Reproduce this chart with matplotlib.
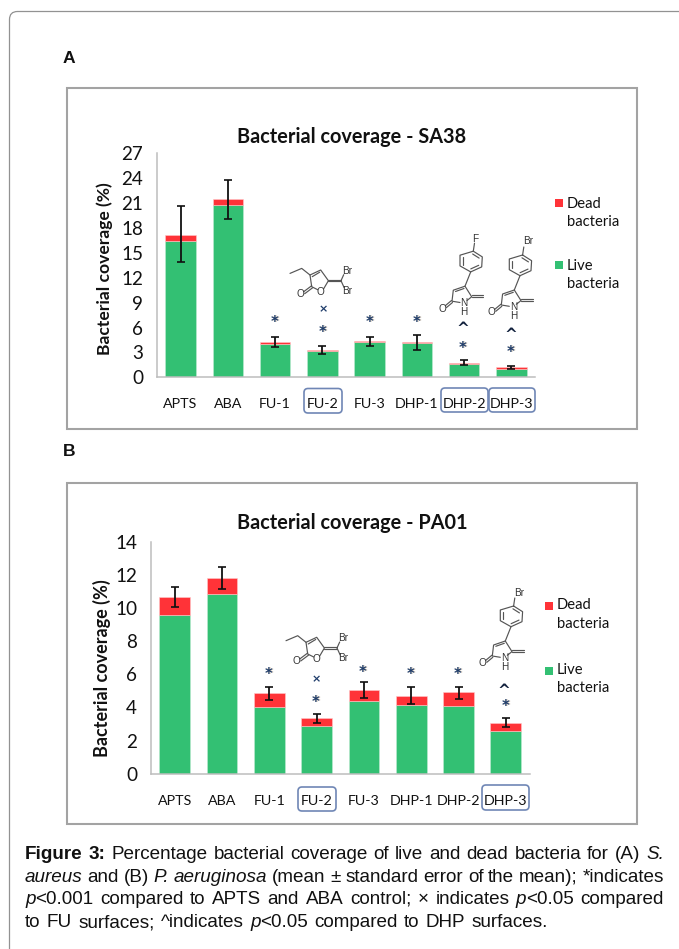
import re
import numpy as np
import matplotlib
matplotlib.use("Agg")
import matplotlib.pyplot as plt
from matplotlib.patches import FancyBboxPatch, Rectangle

W, H = 679, 949
categories = ["APTS", "ABA", "FU-1", "FU-2", "FU-3", "DHP-1", "DHP-2", "DHP-3"]

# Panel A (SA38)
a_live = [16.4, 20.75, 4.0, 3.17, 4.2, 4.1, 1.6, 1.04]
a_dead = [0.8, 0.75, 0.2, 0.13, 0.14, 0.1, 0.17, 0.16]
a_err_high = [20.6, 23.8, 4.85, 3.8, 4.85, 5.1, 2.1, 1.4]
a_err_low = [13.85, 19.1, 3.6, 2.8, 3.8, 3.3, 1.5, 0.96]
a_ticks = [0, 3, 6, 9, 12, 15, 18, 21, 24, 27]

# Panel B (PA01)
b_live = [9.56, 10.85, 4.05, 2.9, 4.4, 4.17, 4.09, 2.6]
b_dead = [1.13, 0.98, 0.81, 0.49, 0.64, 0.55, 0.83, 0.48]
b_err_high = [11.3, 12.48, 5.22, 3.63, 5.56, 5.22, 5.26, 3.35]
b_err_low = [10.08, 11.17, 4.48, 3.08, 4.56, 4.23, 4.5, 2.84]
b_ticks = [0, 2, 4, 6, 8, 10, 12, 14]

caption_lines = [
    "{b:Figure} {b:3:} Percentage bacterial coverage of live and dead bacteria for (A) {i:S.}",
    "{i:aureus} and (B) {i:P.} {i:aeruginosa} (mean ± standard error of the mean); *indicates",
    "{i:p}<0.001 compared to APTS and ABA control;  × indicates {i:p}<0.05 compared",
    "to FU surfaces; ^indicates {i:p}<0.05 compared to DHP surfaces.",
]

GREEN = "#33C073"
RED = "#FF3338"
FONT = "Lato"
INK = "#111111"

fig = plt.figure(figsize=(W / 100, H / 100), dpi=100, facecolor="white")
ov = fig.add_axes([0, 0, 1, 1], zorder=0)
ov.set_xlim(0, W); ov.set_ylim(H, 0); ov.axis("off")
top = fig.add_axes([0, 0, 1, 1], zorder=5)
top.set_xlim(0, W); top.set_ylim(H, 0); top.axis("off"); top.patch.set_alpha(0)

# page border and chart frames
ov.add_patch(FancyBboxPatch((9.5, 11.5), 690, 960, boxstyle="round,pad=0,rounding_size=8",
                            fc="white", ec="#929292", lw=0.9))
for (x0, y0, x1, y1) in [(67, 88, 637, 429), (67, 483, 637, 824)]:
    ov.add_patch(Rectangle((x0, y0), x1 - x0, y1 - y0, fc="white", ec="#A3A3A3", lw=1.5))


def panel(live, dead, lo, hi, ticks, ymax, box, title, title_xy, ylab_x, ylab_y, ylab_fs, boxed):
    x0, ytop, x1, y0 = box
    ax = fig.add_axes([x0 / W, 1 - y0 / H, (x1 - x0) / W, (y0 - ytop) / H], zorder=2)
    ax.patch.set_alpha(0)
    x = np.arange(len(categories))
    ax.bar(x, live, width=0.65, color=GREEN, edgecolor="#BFEBD2", lw=0.4)
    ax.bar(x, dead, bottom=live, width=0.65, color=RED, edgecolor="#FFC9CA", lw=0.4)
    mid = (np.array(lo) + np.array(hi)) / 2
    ax.errorbar(x, mid, yerr=(np.array(hi) - np.array(lo)) / 2, fmt="none",
                ecolor=INK, elinewidth=1.3, capsize=2.6, capthick=1.2, zorder=4)
    ax.set_xlim(-0.5, 7.5); ax.set_ylim(0, ymax)
    ax.set_yticks(ticks)
    ax.set_yticklabels([str(t) for t in ticks], fontsize=13.6, family=FONT, color=INK)
    ax.set_xticks(x)
    ax.set_xticklabels(categories, fontsize=10.3, family=FONT, color=INK)
    ax.tick_params(axis="y", length=0, pad=10)
    ax.tick_params(axis="x", length=0, pad=15)
    for s in ["top", "right"]:
        ax.spines[s].set_visible(False)
    for s in ["left", "bottom"]:
        ax.spines[s].set_color("#BDBDBD"); ax.spines[s].set_linewidth(1.1)
    top.text(*title_xy, title, fontsize=14.3, fontweight="bold", family=FONT,
             ha="center", va="center", color=INK)
    top.text(ylab_x, ylab_y, "Bacterial coverage (%)", rotation=90, fontsize=ylab_fs,
             fontweight="bold", family=FONT, ha="center", va="center", color=INK)
    for (bx0, bx1, by0, by1) in boxed:
        top.add_patch(FancyBboxPatch((bx0, by0), bx1 - bx0, by1 - by0,
                                     boxstyle="round,pad=0,rounding_size=4",
                                     fc="none", ec="#6F86B5", lw=1.2))


panel(a_live, a_dead, a_err_low, a_err_high, a_ticks, 27, (157, 153.3, 535, 377.3),
      "Bacterial coverage - SA38", (352, 137), 105, 269, 12.6,
      [(304, 342, 388.5, 413), (441, 488, 388, 412), (489, 535, 388, 412)])
panel(b_live, b_dead, b_err_low, b_err_high, b_ticks, 14, (151, 542, 529.5, 773.7),
      "Bacterial coverage - PA01", (352, 523), 102, 668, 13.0,
      [(298, 336, 787, 811), (482, 529, 785, 810)])


def star(x, y):
    top.text(x + 0.5, y + 3, "*", fontsize=10.5, color="#8A6A40", ha="center", va="center",
             family="DejaVu Sans", fontweight="bold", alpha=.4)
    top.text(x, y + 3, "*", fontsize=10.5, color="#1F3D6B", ha="center", va="center",
             family="DejaVu Sans", fontweight="bold")


def cross(x, y):
    top.text(x, y, "×", fontsize=8, color="#1F3D6B", ha="center", va="center",
             family="DejaVu Sans", fontweight="bold")


def caret(x, y):
    top.text(x, y + 5, "^", fontsize=11, color="#14233F", ha="center", va="center",
             family="DejaVu Sans", fontweight="bold")


# significance marks, panel A
for xx, yy in [(275, 320), (323, 330), (370, 320), (417, 320), (463, 345), (511, 350)]:
    star(xx, yy)
cross(323, 309)
caret(463, 324); caret(511, 330)
# significance marks, panel B
for xx, yy in [(269, 671), (316, 700), (363, 669), (411, 671), (458, 671), (506, 704)]:
    star(xx, yy)
cross(316, 679)
caret(504, 686)


def chem(xs, ys):
    top.plot(xs, ys, color="#555555", lw=0.85, solid_capstyle="round")


def label(x, y, s):
    top.text(x, y, s, fontsize=7.2, color="#333333", ha="center", va="center", family="Liberation Sans")


def furanone(ox, oy):
    # origin = ring oxygen
    chem([ox - 3, ox - 9, ox - 10.7, ox, ox + 7.7, ox + 3],
         [oy - 2, oy - 5, oy - 16.7, oy - 21.7, oy - 11, oy - 3])
    chem([ox - 8.5, ox - 1], [oy - 15, oy - 19.5])
    chem([ox - 9, ox - 17], [oy - 6, oy + 0]); chem([ox - 8, ox - 16], [oy - 4, oy + 2])
    chem([ox - 10.7, ox - 19, ox - 30.7], [oy - 16.7, oy - 23.3, oy - 18.3])
    chem([ox + 7.7, ox + 20.3], [oy - 12, oy - 12]); chem([ox + 7.7, ox + 20.3], [oy - 10.3, oy - 10.3])
    chem([ox + 20.3, ox + 23], [oy - 11, oy - 17]); chem([ox + 20.3, ox + 23.5], [oy - 11, oy - 4])
    label(ox, oy, "O"); label(ox - 20, oy + 2.3, "O")
    label(ox + 26, oy - 20.7, "Br"); label(ox + 26.7, oy - 0.7, "Br")


HEX_X = np.array([2.3, 11.3, 10.7, -0.3, -11.0, -11.0, 2.3])
HEX_Y = np.array([-10.0, -4.3, 5.7, 10.7, 4.7, -6.0, -10.0])


def pyrrolone(nx, ny, hal, hx, hy):
    # origin = ring nitrogen
    chem([nx - 4, nx - 12, nx - 10.7, nx + 1, nx + 7.7, nx + 3],
         [ny - 1, ny - 2.3, ny - 13.3, ny - 17.3, ny - 6.7, ny - 3])
    chem([nx - 8.5, nx], [ny - 12, ny - 15])
    chem([nx - 12.5, nx - 18.5], [ny - 3, ny + 2]); chem([nx - 11.5, nx - 17.5], [ny - 1, ny + 4])
    chem([nx + 7.7, nx + 19.3], [ny - 8.5, ny - 8.5]); chem([nx + 7.7, nx + 19.3], [ny - 6.8, ny - 6.8])
    cx, cy = nx + 7, ny - 42.3
    chem([nx + 1, cx - 0.3], [ny - 17.3, cy + 10.7])
    chem(cx + HEX_X, cy + HEX_Y)
    inner = 0.72
    for k in (0, 2, 4):
        chem(cx + inner * HEX_X[k:k + 2], cy + inner * HEX_Y[k:k + 2])
    chem([cx + 2.3, cx + 3.5], [cy - 10, cy - 18])
    label(nx, ny, "N"); label(nx, ny + 8.3, "H"); label(nx - 21.7, ny + 5, "O")
    label(nx + hx, ny + hy, hal)


furanone(320.7, 291.7)
pyrrolone(464, 303.5, "F", 11, -64.3)
pyrrolone(513.3, 307.3, "Br", 15, -66.7)
furanone(316.7, 659)
pyrrolone(504.3, 658.3, "Br", 15, -65)

# legends
for (lx, ry, gy, tx, d1, d2, l1, l2) in [(555, 199, 261, 566.7, 204, 222, 266, 284),
                                         (545, 602, 667, 557, 605, 624, 670, 688)]:
    top.add_patch(Rectangle((lx, ry), 8.3, 8.3, fc=RED, ec="none"))
    top.add_patch(Rectangle((lx, gy), 8.3, 8.3, fc=GREEN, ec="none"))
    for yy, s in [(d1, "Dead"), (d2, "bacteria"), (l1, "Live"), (l2, "bacteria")]:
        top.text(tx, yy, s, fontsize=10.6, family=FONT, color=INK, va="center", ha="left")

# panel letters
LET = dict(fontsize=12.6, fontweight="bold", family="Liberation Sans", va="center", color=INK)
top.text(62.5, 58, "A", **LET)
top.text(63, 451, "B", **LET)

# caption: justified to the text block, word by word
CAP_FS = 13.6
STYLE = {"n": {}, "b": {"fontweight": "bold"}, "i": {"fontstyle": "italic"}}
rend = fig.canvas.get_renderer()


def parse_word(w):
    runs = []
    for part in re.split(r"(\{[bi]:[^}]*\})", w):
        if not part:
            continue
        if part.startswith("{"):
            runs.append((part[3:-1], part[1]))
        else:
            runs.append((part, "n"))
    return runs


def run_width(s, st):
    t = top.text(0, 0, s, fontsize=CAP_FS, family="Liberation Sans", **STYLE[st])
    w = t.get_window_extent(rend).width
    t.remove()
    return w


def draw_line(line, y, right, left=25.0):
    words = [parse_word(w) for w in line.split()]
    widths = [sum(run_width(s, st) for s, st in wd) for wd in words]
    gap = (right - left - sum(widths)) / (len(words) - 1)
    x = left
    for wd, w in zip(words, widths):
        cx = x
        for s, st in wd:
            top.text(cx, y, s, fontsize=CAP_FS, family="Liberation Sans", color=INK,
                     va="baseline", ha="left", **STYLE[st])
            cx += run_width(s, st)
        x += w + gap


for ln, yy, right in zip(caption_lines, [859, 882, 904, 927], [664, 664, 664, 548]):
    draw_line(ln, yy, right)

fig.savefig("out.png", dpi=100, facecolor="white")
